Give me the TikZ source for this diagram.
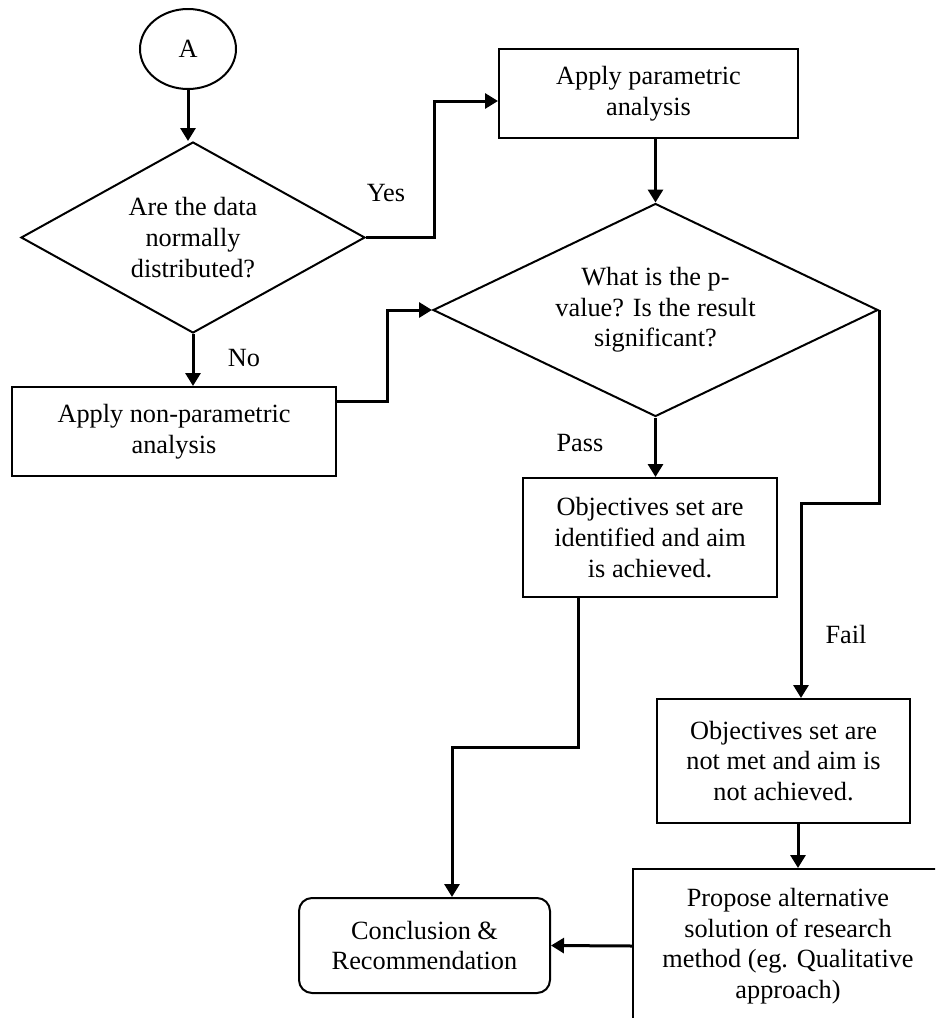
\documentclass[tikz,border=0pt]{standalone}
\usepackage{fontspec}
\setmainfont{Liberation Serif}
\usetikzlibrary{shapes.geometric,arrows.meta}
\begin{document}
\begin{tikzpicture}[x=1pt,y=-1pt,
  every node/.style={font=\fontsize{26.3}{30.6}\selectfont, align=center, inner sep=0pt},
  box/.style={draw, line width=2pt, rectangle},
  decision/.style={draw, line width=2pt, diamond, aspect=2.1},
  flow/.style={line width=3pt, -{Triangle[length=13pt,width=15pt]}}
]
\useasboundingbox (0,0) rectangle (935,1018);
\fill[white] (0,0) rectangle (935,1018);
\clip (0,0) rectangle (935,1018);

% start marker
\node[draw, ellipse, line width=2pt, minimum width=96pt, minimum height=80pt] (A) at (188,49) {A};

% decisions
\node[decision, minimum width=344pt, minimum height=191pt] (d1) at (193,237.5) {Are the data\\normally\\distributed?};
\node[decision, minimum width=445pt, minimum height=213pt] (d2) at (655.5,310) {What is the p-\\value? Is the result\\significant?};

% process boxes
\node[box, minimum width=299pt, minimum height=89pt] (p1) at (648.5,93.5) {Apply parametric\\analysis};
\node[box, minimum width=324pt, minimum height=89pt] (np) at (174,431.5) {Apply non-parametric\\analysis};
\node[box, minimum width=254pt, minimum height=119pt] (id) at (650,537.5) {Objectives set are\\identified and aim\\is achieved.};
\node[box, minimum width=253pt, minimum height=124pt] (nm) at (783.5,761) {Objectives set are\\not met and aim is\\not achieved.};
\node[box, minimum width=310pt, minimum height=154pt] (pr) at (788,946) {Propose alternative\\solution of research\\method (eg. Qualitative\\approach)};
\node[box, rounded corners=13pt, minimum width=251pt, minimum height=95pt] (cr) at (424.5,945.5) {Conclusion \&\\Recommendation};

% branch labels
\node (yes) at (386,193) {Yes};
\node (no) at (244,358) {No};
\node (pass) at (580,443) {Pass};
\node (fail) at (846,634) {Fail};

% connectors
\draw[flow] (A.south) -- (A.south |- d1.north);
\draw[flow] (d1.east) -- ++(68,0) |- ([yshift=-7.5pt]p1.west);
\draw[flow] (d1.south) -- (d1.south |- np.north);
\draw[flow] ([yshift=30.5pt]np.east) -- ++(50,0) |- (d2.west);
\draw[flow] (d2.north |- p1.south) -- (d2.north);
\draw[flow] (d2.south) -- (d2.south |- id.north);
\draw[flow] (d2.east) -- ++(0,193) -| ([xshift=17.5pt]nm.north);
\draw[flow] ([xshift=-72pt]id.south) -- ++(0,149) -| ([xshift=27.5pt]cr.north);
\draw[flow] ([xshift=14.5pt]nm.south) -- ([xshift=14.5pt]nm.south |- pr.north);
\draw[flow] (pr.west) -- (cr.east);
\end{tikzpicture}
\end{document}
